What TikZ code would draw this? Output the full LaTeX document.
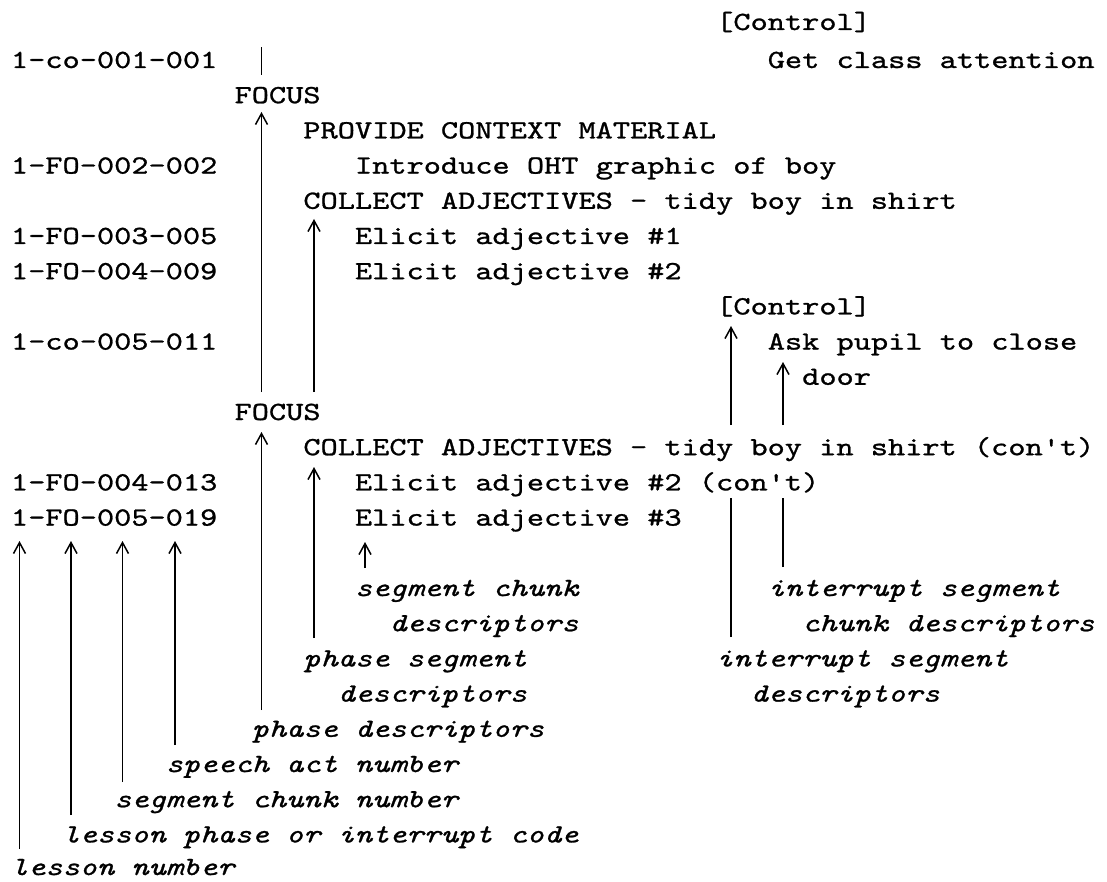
\documentclass[tikz,border=0pt]{standalone}
\usepackage{fontspec}
\usetikzlibrary{arrows.meta}
\newfontfamily\cour{lmmono10-regular}[Extension=.otf, ItalicFont=lmmono10-italic, FakeStretch=1.25, FakeBold=1.0]
\begin{document}
\begin{tikzpicture}[x=1pt,y=-1pt,
  txt/.style={anchor=base west, inner sep=0pt, outer sep=0pt, font=\cour\fontsize{26.2}{30}\selectfont},
  itxt/.style={anchor=base west, inner sep=0pt, outer sep=0pt, font=\cour\itshape\fontsize{26.2}{30}\selectfont},
  ln/.style={line width=1.6pt},
  arr/.style={line width=1.6pt, -{Straight Barb[length=11pt,width=12pt,line width=1.5pt]}}]
\fill[white] (0,0) rectangle (1107,882);
\useasboundingbox (0,0) rectangle (1107,882);
% column origin: 11 + 17.2*c ; baseline of row r (r>=1): 68 + 35.2*(r-1)
% row 0
\node[txt] (ctrlA) at ({11+17.2*41},30) {[Control]};
% row 1
\node[txt] (id1) at (11,68) {1-co-001-001};
\node[txt] (getatt) at ({11+17.2*44},68) {Get class attention};
% row 2
\node[txt] (focusA) at ({11+17.2*13},{68+35.2*1}) {FOCUS};
% row 3
\node[txt] (provide) at ({11+17.2*17},{68+35.2*2}) {PROVIDE CONTEXT MATERIAL};
% row 4
\node[txt] (id2) at (11,{68+35.2*3}) {1-FO-002-002};
\node[txt] (intro) at ({11+17.2*20},{68+35.2*3}) {Introduce OHT graphic of boy};
% row 5
\node[txt] (collA) at ({11+17.2*17},{68+35.2*4}) {COLLECT ADJECTIVES - tidy boy in shirt};
% row 6
\node[txt] (id3) at (11,{68+35.2*5}) {1-FO-003-005};
\node[txt] (el1) at ({11+17.2*20},{68+35.2*5}) {Elicit adjective \#1};
% row 7
\node[txt] (id4) at (11,{68+35.2*6}) {1-FO-004-009};
\node[txt] (el2) at ({11+17.2*20},{68+35.2*6}) {Elicit adjective \#2};
% row 8
\node[txt] (ctrlB) at ({11+17.2*41},{68+35.2*7}) {[Control]};
% row 9
\node[txt] (id5) at (11,{68+35.2*8}) {1-co-005-011};
\node[txt] (ask) at ({11+17.2*44},{68+35.2*8}) {Ask pupil to close};
% row 10
\node[txt] (door) at ({11+17.2*46},{68+35.2*9}) {door};
% row 11
\node[txt] (focusB) at ({11+17.2*13},{68+35.2*10}) {FOCUS};
% row 12
\node[txt] (collB) at ({11+17.2*17},{68+35.2*11}) {COLLECT ADJECTIVES - tidy boy in shirt (con't)};
% row 13
\node[txt] (id6) at (11,{68+35.2*12}) {1-FO-004-013};
\node[txt] (el2b) at ({11+17.2*20},{68+35.2*12}) {Elicit adjective \#2 (con't)};
% row 14
\node[txt] (id7) at (11,{68+35.2*13}) {1-FO-005-019};
\node[txt] (el3) at ({11+17.2*20},{68+35.2*13}) {Elicit adjective \#3};
% italic descriptors
\node[itxt] (segchA) at ({11+17.2*20},{68+35.2*15}) {segment chunk};
\node[itxt] (segchB) at ({11+17.2*22},{68+35.2*16}) {descriptors};
\node[itxt] (intsegA) at ({11+17.2*44},{68+35.2*15}) {interrupt segment};
\node[itxt] (intsegB) at ({11+17.2*46},{68+35.2*16}) {chunk descriptors};
\node[itxt] (phsegA) at ({11+17.2*17},{68+35.2*17}) {phase segment};
\node[itxt] (phsegB) at ({11+17.2*19},{68+35.2*18}) {descriptors};
\node[itxt] (intdA) at ({11+17.2*41},{68+35.2*17}) {interrupt segment};
\node[itxt] (intdB) at ({11+17.2*43},{68+35.2*18}) {descriptors};
\node[itxt] (phdesc) at ({11+17.2*14},{68+35.2*19}) {phase descriptors};
\node[itxt] (speech) at ({11+17.2*9},{68+35.2*20}) {speech act number};
\node[itxt] (segnum) at ({11+17.2*6},{68+35.2*21}) {segment chunk number};
\node[itxt] (lphase) at ({11+17.2*3},{68+35.2*22}) {lesson phase or interrupt code};
\node[itxt] (lnum) at (11,875) {lesson number};
% connector end points
\coordinate (a1t) at (261.5,47);  \coordinate (a1b) at (261.5,75);
\coordinate (a2t) at (261.5,112); \coordinate (a2b) at (261.5,392);
\coordinate (a3t) at (261.5,432); \coordinate (a3b) at (261.5,710);
\coordinate (b1t) at (314,219);   \coordinate (b1b) at (314,392);
\coordinate (b2t) at (314,467);   \coordinate (b2b) at (314,638);
\coordinate (ct) at (365,542);    \coordinate (cb) at (365,568);
\coordinate (d0t) at (19.5,541);  \coordinate (d0b) at (19.5,849);
\coordinate (d3t) at (71,541);    \coordinate (d3b) at (71,815);
\coordinate (d6t) at (122.5,541); \coordinate (d6b) at (122.5,782);
\coordinate (d9t) at (175,541);   \coordinate (d9b) at (175,745);
\coordinate (e1t) at (731,326);   \coordinate (e1b) at (731,425);
\coordinate (e2t) at (731,498);   \coordinate (e2b) at (731,637);
\coordinate (e3t) at (783,362);   \coordinate (e3b) at (783,425);
\coordinate (e4t) at (783,498);   \coordinate (e4b) at (783,567);
% connectors
\draw[ln] (a1b) -- (a1t);
\draw[arr] (a2b) -- (a2t);
\draw[arr] (a3b) -- (a3t);
\draw[arr] (b1b) -- (b1t);
\draw[arr] (b2b) -- (b2t);
\draw[arr] (cb) -- (ct);
\draw[arr] (d0b) -- (d0t);
\draw[arr] (d3b) -- (d3t);
\draw[arr] (d6b) -- (d6t);
\draw[arr] (d9b) -- (d9t);
\draw[arr] (e1b) -- (e1t);
\draw[ln] (e2b) -- (e2t);
\draw[arr] (e3b) -- (e3t);
\draw[ln] (e4b) -- (e4t);
\end{tikzpicture}
\end{document}
